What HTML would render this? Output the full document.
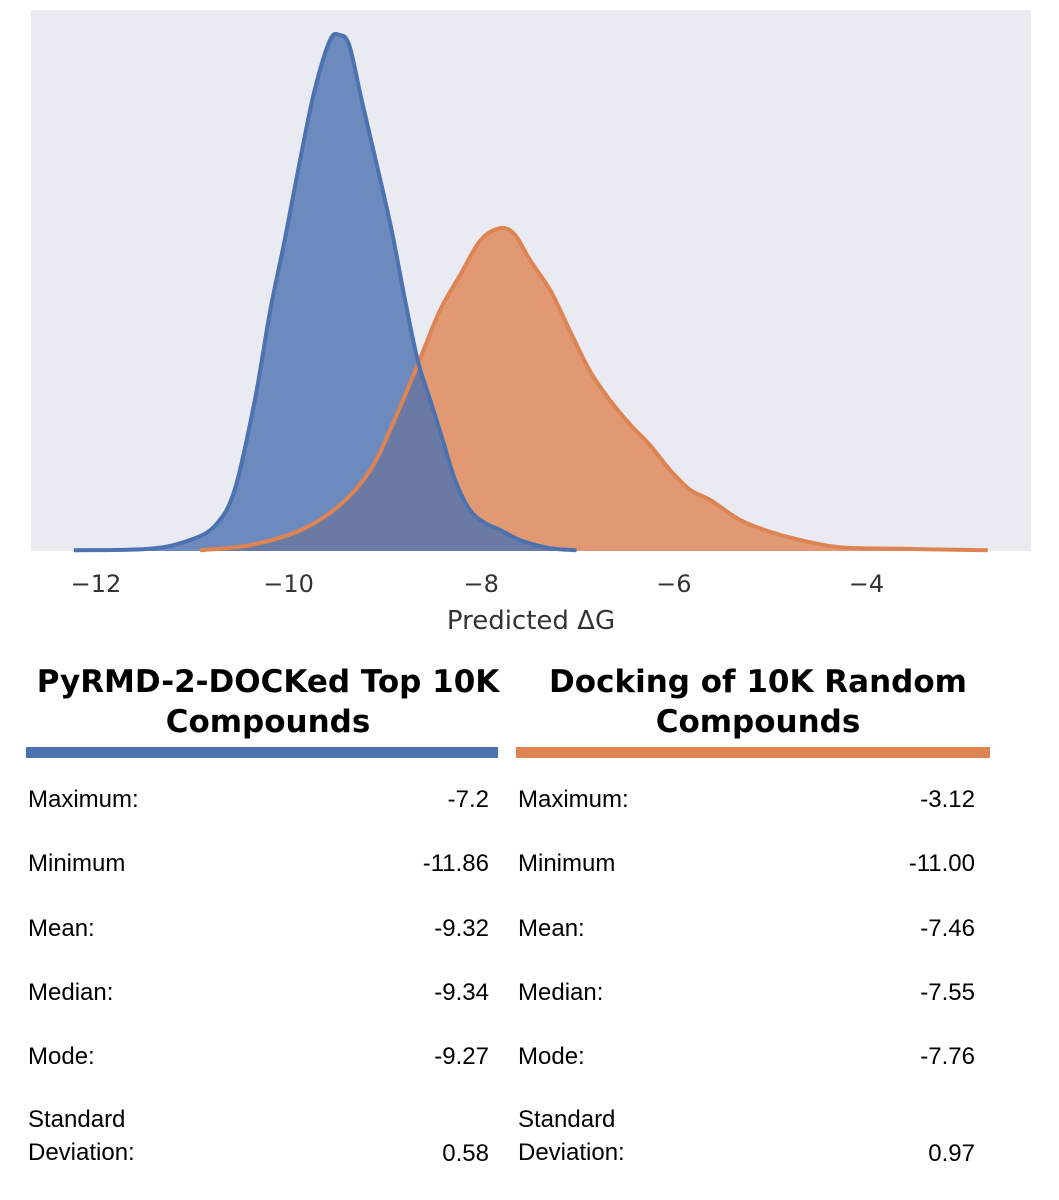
<!DOCTYPE html>
<html><head><meta charset="utf-8"><style>
body{margin:0;background:#fff;width:1059px;height:1200px;position:relative;overflow:hidden;font-family:"Liberation Sans",sans-serif}
.h{position:absolute;font-family:"DejaVu Sans",sans-serif;font-weight:bold;font-size:31px;text-align:center;line-height:40px;color:#000}
.bar{position:absolute;height:11px}
.r{position:absolute;font-size:24px;color:#000;line-height:33px}
.v{text-align:right}
</style></head><body>
<svg id="chart" width="1059" height="640" style="position:absolute;left:0;top:0">
<rect x="31" y="10" width="1000" height="541" fill="#eaeaf2"/>
<g id="marks"></g><g id="ticks"></g>
<text x="531" y="629" font-family="DejaVu Sans, sans-serif" font-size="26" fill="#333" text-anchor="middle">Predicted ΔG</text>
</svg>
<div class="h" style="left:20px;top:662px;width:496px">PyRMD-2-DOCKed Top 10K<br>Compounds</div>
<div class="h" style="left:510px;top:662px;width:496px">Docking of 10K Random<br>Compounds</div>
<div class="bar" style="left:26px;top:747px;width:472px;background:#4c72b0"></div>
<div class="bar" style="left:516px;top:747px;width:474px;background:#dd8452"></div>
<div id="rows"></div>
<script>
const blueX=[-12.23,-11.44,-11.02,-10.76,-10.56,-10.35,-10.19,-10.04,-9.88,-9.73,-9.57,-9.47,-9.37,-9.24,-9.07,-8.93,-8.79,-8.66,-8.53,-8.40,-8.27,-8.12,-7.96,-7.81,-7.60,-7.29,-7.01];
const blueY=[0.001,0.003,0.015,0.035,0.083,0.205,0.327,0.422,0.531,0.625,0.693,0.700,0.686,0.611,0.516,0.435,0.340,0.259,0.205,0.151,0.096,0.056,0.038,0.029,0.015,0.004,0.001];
const orangeX=[-10.92,-10.40,-9.88,-9.47,-9.15,-8.90,-8.64,-8.43,-8.22,-8.01,-7.80,-7.65,-7.49,-7.28,-7.08,-6.87,-6.66,-6.45,-6.25,-6.04,-5.83,-5.62,-5.31,-5.00,-4.69,-4.27,-3.65,-2.74];
const orangeY=[0.001,0.008,0.028,0.062,0.110,0.178,0.259,0.326,0.374,0.421,0.438,0.429,0.394,0.353,0.299,0.244,0.204,0.171,0.144,0.110,0.083,0.069,0.042,0.026,0.015,0.005,0.003,0.001];
const xTicks=[-12,-10,-8,-6,-4];
const statLabels=["Maximum:","Minimum","Mean:","Median:","Mode:","Standard<br>Deviation:"];
const leftVals=["-7.2","-11.86","-9.32","-9.34","-9.27","0.58"];
const rightVals=["-3.12","-11.00","-7.46","-7.55","-7.76","0.97"];
const NS="http://www.w3.org/2000/svg";
const sx=v=>96+(v+12)*96.3;
const sy=d=>551-d*516/0.70;
function path(xs,ys,close){
  const p=xs.map((x,i)=>[sx(x),sy(ys[i])]);
  let s=`M${p[0][0]},${close?551:p[0][1]}`;
  if(close)s+=`L${p[0][0]},${p[0][1]}`;
  for(let i=0;i<p.length-1;i++){
    const a=p[Math.max(0,i-1)],b=p[i],c=p[i+1],d=p[Math.min(p.length-1,i+2)];
    s+=`C${b[0]+(c[0]-a[0])/6},${b[1]+(c[1]-a[1])/6} ${c[0]-(d[0]-b[0])/6},${c[1]-(d[1]-b[1])/6} ${c[0]},${c[1]}`;
  }
  if(close)s+=`L${p[p.length-1][0]},551Z`;
  return s;
}
const g=document.getElementById('marks');
[[orangeX,orangeY,'#dd8452','orange'],[blueX,blueY,'#4c72b0','blue']].forEach(([xs,ys,c,n])=>{
  const f=document.createElementNS(NS,'path');
  
  
  f.setAttribute('d',path(xs,ys,true));f.setAttribute('fill',c);f.setAttribute('fill-opacity','0.8');
  g.appendChild(f);
});
[[orangeX,orangeY,'#dd8452','orange'],[blueX,blueY,'#4c72b0','blue']].forEach(([xs,ys,c,n])=>{
  const l=document.createElementNS(NS,'path');
  
  
  l.setAttribute('d',path(xs,ys,false));l.setAttribute('fill','none');l.setAttribute('stroke',c);l.setAttribute('stroke-width','4');l.setAttribute('stroke-linejoin','round');
  g.appendChild(l);
});
const tg=document.getElementById('ticks');
xTicks.forEach(t=>{
  const e=document.createElementNS(NS,'text');
  
  
  e.setAttribute('x',sx(t));e.setAttribute('y',592);e.setAttribute('text-anchor','middle');
  e.setAttribute('font-family','DejaVu Sans, sans-serif');e.setAttribute('font-size','24');e.setAttribute('fill','#333');
  e.textContent=(t<0?'\u2212':'')+Math.abs(t);tg.appendChild(e);
});
const rows=document.getElementById('rows');
statLabels.forEach((lab,i)=>{
  const top=i<5?783+i*64.3:1103;
  const valTop=i<5?top:1137;
  [[28,489,leftVals,'left'],[518,975,rightVals,'right']].forEach(([lx,rx,vals,side])=>{
    const a=document.createElement('div');a.className='r';
    
    
    a.style.left=lx+'px';a.style.top=top+'px';a.innerHTML=lab;rows.appendChild(a);
    const b=document.createElement('div');b.className='r v';
    
    
    b.style.left=(rx-200)+'px';b.style.width='200px';b.style.top=valTop+'px';b.textContent=vals[i];rows.appendChild(b);
  });
});
</script>
</body></html>
